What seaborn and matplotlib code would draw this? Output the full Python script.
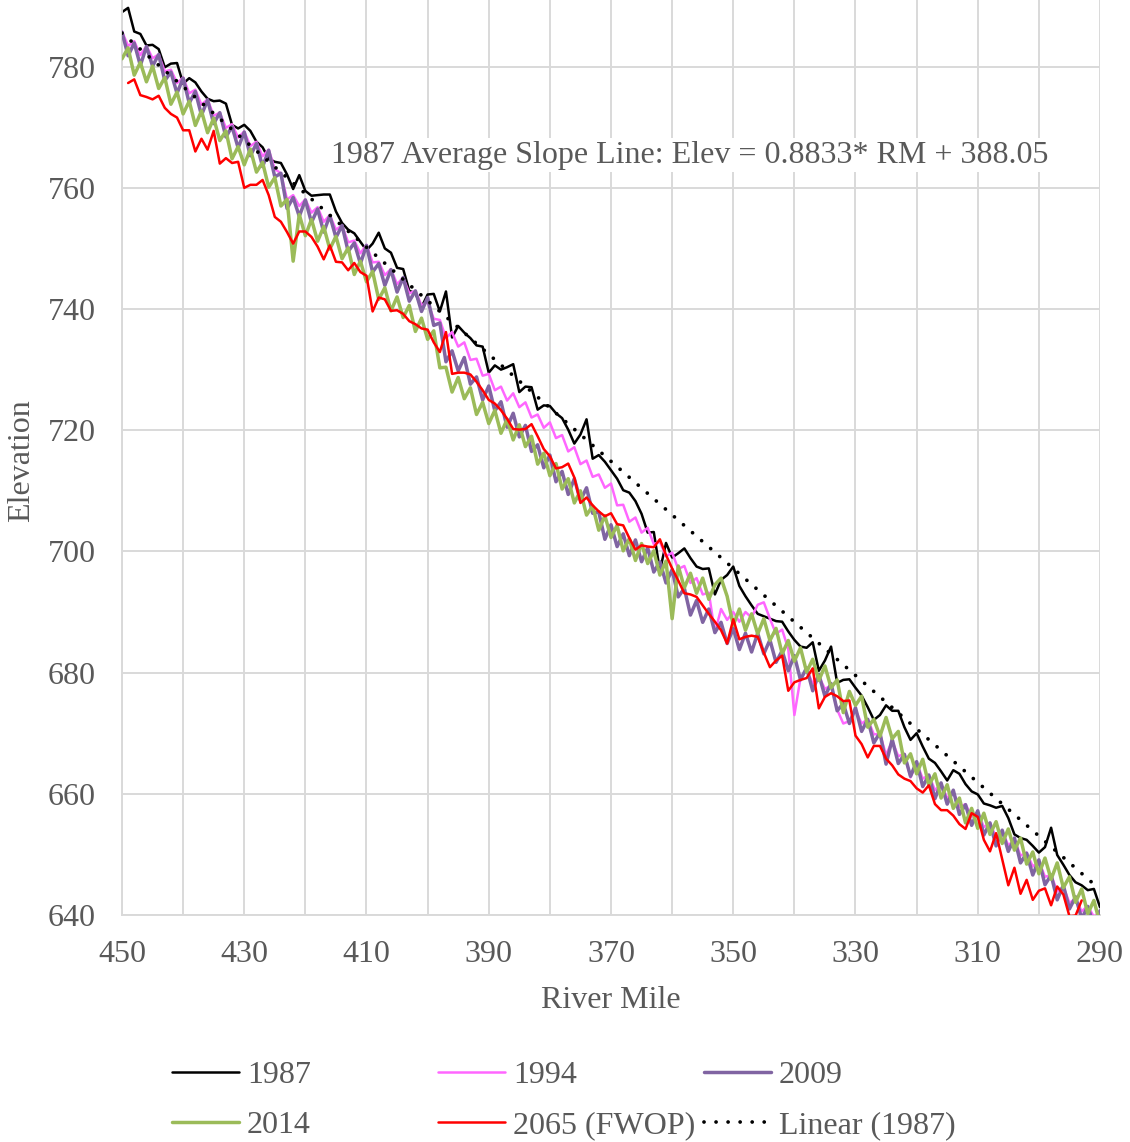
import pandas as pd
import matplotlib
matplotlib.use("Agg")
import matplotlib.pyplot as plt
import seaborn as sns

# 1. river mile stations (upstream -> downstream), one per mile
river_mile = list(range(450, 289, -1))
river_mile_2065 = list(range(449, 292, -1))

# 2. bed elevations
elev_1987 = [
    789.0, 789.7, 785.8, 785.4, 783.5, 783.6, 782.9, 779.9, 780.5, 780.6,
    777.2, 778.1, 777.4, 775.9, 774.7, 774.3, 774.4, 773.9, 770.4, 769.8,
    770.4, 769.4, 767.6, 766.7, 764.8, 764.3, 764.1, 762.2, 759.8, 762.1,
    759.5, 758.7, 758.8, 758.9, 758.9, 756.1, 754.2, 753.1, 752.5, 751.1,
    749.7, 750.8, 752.6, 750.0, 749.3, 746.8, 746.6, 743.0, 742.6, 740.3,
    742.4, 742.5, 739.6, 742.9, 735.3, 737.2, 736.1, 735.2, 734.0, 733.8,
    729.5, 730.7, 730.0, 730.4, 730.9, 726.3, 727.2, 727.1, 723.4, 724.1,
    724.0, 722.8, 722.0, 720.1, 717.8, 719.3, 721.8, 715.3, 715.9, 714.8,
    713.4, 712.0, 710.1, 709.7, 708.3, 706.2, 703.1, 703.2, 696.8, 701.4,
    699.0, 699.7, 700.5, 698.9, 697.5, 697.1, 697.2, 692.9, 695.3, 696.1,
    697.5, 694.3, 692.6, 691.1, 689.7, 689.3, 688.9, 688.5, 688.4, 686.8,
    685.4, 684.3, 684.1, 685.0, 680.3, 682.0, 684.3, 678.3, 678.8, 678.9,
    677.5, 676.2, 674.3, 672.2, 673.0, 674.6, 673.7, 673.7, 671.0, 668.9,
    670.0, 667.8, 665.8, 665.1, 663.7, 662.2, 663.9, 663.3, 661.6, 660.4,
    659.9, 658.4, 658.1, 657.7, 658.0, 656.0, 653.3, 652.7, 652.4, 651.4,
    650.3, 651.2, 654.4, 649.9, 648.3, 646.6, 645.4, 644.9, 644.1, 644.3,
    641.3,
]

elev_1994 = [
    785.8, 783.4, 784.2, 781.9, 783.4, 781.4, 782.0, 779.2, 779.5, 777.3,
    778.2, 775.6, 776.2, 773.7, 774.6, 771.9, 772.4, 769.9, 770.5, 768.3,
    769.3, 766.9, 767.6, 765.2, 766.3, 763.1, 762.4, 758.1, 758.8, 757.0,
    758.1, 755.9, 756.8, 754.4, 755.5, 753.1, 753.8, 751.0, 751.3, 749.2,
    750.6, 747.7, 747.8, 745.6, 746.6, 744.1, 745.2, 742.6, 743.0, 740.6,
    741.2, 738.4, 738.2, 735.2, 736.2, 733.8, 734.5, 731.6, 731.8, 729.0,
    729.3, 726.6, 727.2, 724.9, 726.1, 723.8, 724.6, 722.1, 722.6, 720.4,
    721.3, 718.7, 719.2, 716.5, 717.2, 714.4, 715.0, 712.3, 712.7, 710.5,
    711.2, 707.6, 707.7, 704.9, 705.6, 703.1, 703.9, 701.2, 701.6, 699.2,
    699.8, 697.1, 697.6, 694.8, 695.6, 692.9, 693.2, 686.6, 690.5, 688.7,
    690.0, 688.4, 690.0, 689.1, 691.2, 691.6, 688.9, 686.4, 687.1, 683.9,
    673.0, 679.1, 680.5, 678.2, 679.4, 677.3, 677.9, 673.9, 671.6, 672.0,
    673.8, 671.6, 672.3, 669.8, 669.9, 666.4, 668.7, 666.2, 666.6, 662.7,
    665.1, 662.5, 663.1, 660.6, 661.6, 659.3, 660.3, 657.8, 658.3, 656.2,
    657.0, 654.5, 655.2, 652.8, 653.8, 651.5, 652.4, 649.8, 650.3, 648.0,
    648.9, 646.3, 646.6, 643.9, 644.7, 642.0, 642.7, 640.6, 641.5, 639.7,
    640.5,
]

elev_2009 = [
    785.7, 781.8, 783.9, 780.2, 783.3, 780.1, 782.0, 777.7, 779.1, 775.6,
    778.1, 774.0, 775.9, 772.0, 774.5, 770.6, 772.4, 768.4, 770.1, 766.6,
    769.2, 765.3, 767.3, 763.5, 766.2, 761.8, 762.4, 756.6, 758.4, 755.3,
    758.0, 754.3, 756.5, 752.7, 755.4, 751.8, 753.8, 749.5, 750.9, 747.5,
    750.5, 746.1, 747.5, 743.9, 746.5, 742.8, 745.2, 741.3, 743.0, 739.6,
    741.9, 737.3, 737.7, 731.3, 733.1, 729.8, 732.0, 727.6, 728.8, 725.0,
    727.3, 723.2, 724.7, 720.5, 722.8, 718.9, 720.8, 716.5, 717.6, 713.8,
    715.9, 711.5, 713.2, 709.4, 712.0, 708.4, 710.5, 706.3, 706.5, 702.0,
    704.4, 700.8, 702.9, 699.3, 701.9, 698.3, 700.6, 696.6, 698.3, 694.8,
    697.0, 692.5, 693.9, 689.5, 691.9, 688.3, 690.5, 686.6, 688.3, 684.8,
    687.3, 683.8, 686.5, 683.4, 686.5, 683.1, 685.4, 681.7, 683.6, 680.3,
    682.8, 678.8, 680.8, 677.0, 679.7, 676.1, 678.2, 673.7, 674.9, 671.6,
    674.2, 670.3, 672.3, 668.4, 670.1, 664.9, 669.0, 665.0, 666.5, 662.9,
    665.3, 661.2, 663.1, 659.2, 661.8, 658.3, 660.6, 656.6, 658.2, 654.8,
    657.2, 653.2, 655.2, 651.4, 654.0, 650.5, 652.7, 648.6, 650.2, 646.6,
    649.1, 645.0, 646.6, 642.5, 644.9, 641.0, 643.0, 639.4, 641.4, 638.3,
    640.7,
]

elev_2014 = [
    781.3, 783.1, 778.6, 780.7, 777.5, 780.1, 776.4, 778.2, 773.8, 775.8,
    772.2, 774.3, 770.3, 772.7, 769.1, 771.5, 767.8, 769.4, 764.8, 766.8,
    763.8, 766.4, 762.6, 764.2, 760.1, 761.7, 757.0, 758.1, 747.9, 755.6,
    752.1, 754.8, 751.2, 753.6, 749.9, 752.0, 748.3, 750.1, 745.7, 747.9,
    744.5, 746.2, 741.6, 743.5, 739.7, 742.0, 738.6, 740.6, 736.3, 738.5,
    735.0, 736.4, 730.3, 730.4, 726.3, 728.7, 725.2, 727.0, 722.6, 724.6,
    721.1, 723.3, 719.5, 721.8, 718.4, 720.9, 717.3, 719.0, 714.4, 716.2,
    712.5, 714.5, 710.3, 712.0, 708.0, 710.0, 706.0, 707.5, 703.5, 705.9,
    702.3, 704.3, 700.1, 702.1, 698.5, 701.3, 698.0, 700.1, 696.1, 698.4,
    688.9, 697.6, 694.0, 696.4, 693.1, 695.6, 692.1, 694.5, 695.6, 692.6,
    687.8, 690.5, 687.0, 689.7, 686.4, 688.9, 685.3, 687.3, 683.1, 685.3,
    681.9, 684.1, 680.1, 682.2, 678.7, 681.1, 677.5, 678.8, 673.4, 676.9,
    674.6, 676.1, 671.0, 672.3, 669.5, 672.6, 669.1, 670.3, 665.1, 666.6,
    663.3, 665.7, 661.4, 663.3, 659.3, 661.5, 657.6, 659.3, 655.2, 657.6,
    654.3, 656.8, 653.3, 655.4, 651.8, 654.2, 650.7, 652.7, 648.4, 650.4,
    646.8, 649.4, 645.9, 648.6, 644.5, 646.3, 642.1, 644.3, 640.2, 642.4,
    638.6,
]

elev_2065 = [
    777.3, 777.9, 775.3, 775.0, 774.6, 775.2, 773.2, 772.2, 771.6,
    769.5, 769.5, 766.0, 768.1, 766.3, 769.4, 764.0, 764.9, 764.1, 764.3,
    760.0, 760.5, 760.5, 761.3, 758.8, 755.2, 754.4, 752.7, 750.8, 752.8,
    752.8, 751.9, 750.3, 748.2, 750.5, 747.8, 747.7, 746.4, 747.6, 746.1,
    745.5, 739.6, 741.9, 741.6, 739.7, 739.8, 739.2, 738.0, 737.5, 736.8,
    736.6, 734.5, 732.9, 736.2, 729.3, 729.5, 729.5, 729.2, 728.0, 726.6,
    725.0, 724.4, 723.3, 721.9, 720.2, 720.1, 720.2, 721.0, 719.0, 716.9,
    715.7, 713.7, 713.9, 714.5, 712.2, 708.0, 708.9, 707.6, 706.6, 705.8,
    706.3, 704.5, 704.3, 702.2, 700.3, 701.0, 700.8, 700.7, 702.0, 699.4,
    697.2, 695.2, 693.1, 692.9, 692.5, 691.1, 689.7, 688.4, 687.0, 684.8,
    688.8, 685.5, 685.9, 686.1, 685.9, 683.3, 680.9, 682.0, 682.8, 677.0,
    678.4, 678.8, 679.1, 680.7, 674.1, 676.0, 676.6, 676.1, 675.3, 675.4,
    669.6, 668.2, 666.0, 667.9, 667.9, 665.8, 664.7, 663.2, 662.5, 662.1,
    660.9, 660.2, 661.4, 658.3, 657.3, 657.3, 656.4, 655.0, 654.2, 656.8,
    656.2, 652.4, 650.5, 653.5, 649.2, 644.9, 647.8, 643.5, 645.8, 642.5,
    644.0, 644.4, 641.6, 644.7, 643.4, 639.8, 639.9, 642.4,
]

# 3. 1987 average slope (trend) line, as printed on the chart
trend_slope = 0.8833
trend_intercept = 388.05
trend_rm = [450, 290]

x_ticks = list(range(450, 289, -20))
y_ticks = list(range(640, 781, 20))

TXT = "#595959"
GRID = "#D9D9D9"
FS = 23

sns.set_theme(style="white")
plt.rcParams["font.family"] = ["Liberation Serif", "DejaVu Serif"]

fig = plt.figure(figsize=(11.3, 11.42), dpi=100)
ax = fig.add_axes([122 / 1130, 1 - 915 / 1142, 978 / 1130, 915 / 1142])

series = [
    ("1987", river_mile, elev_1987, "#000000", 1.8, 2),
    ("1994", river_mile, elev_1994, "#FF66FF", 1.8, 3),
    ("2009", river_mile, elev_2009, "#8064A2", 2.5, 4),
    ("2014", river_mile, elev_2014, "#9BBB59", 2.5, 5),
    ("2065 (FWOP)", river_mile_2065, elev_2065, "#FF0000", 1.8, 6),
]
for label, xs, ys, col, lw, z in series:
    df = pd.DataFrame({"rm": xs, "elev": ys})
    sns.lineplot(data=df, x="rm", y="elev", ax=ax, color=col, lw=lw,
                 label=label, zorder=z, sort=False, estimator=None)

trend = pd.DataFrame({"rm": trend_rm,
                      "elev": [trend_slope * r + trend_intercept for r in trend_rm]})
sns.lineplot(data=trend, x="rm", y="elev", ax=ax, color="black", lw=2.7,
             linestyle=(0, (0.01, 3.2)), dash_capstyle="round",
             label="Linear (1987)", zorder=7, sort=False, estimator=None)

ax.set_xlim(450, 290)
ax.set_ylim(640, 791)
ax.set_xticks(x_ticks)
ax.set_xticks(list(range(440, 290, -20)), minor=True)
ax.set_yticks(y_ticks)
ax.grid(axis="x", which="both", color=GRID, lw=1.4)
ax.grid(axis="y", which="major", color=GRID, lw=1.4)
ax.set_axisbelow(True)
for s in ["top", "right"]:
    ax.spines[s].set_visible(False)
for s in ["left", "bottom"]:
    ax.spines[s].set_color(GRID)
    ax.spines[s].set_linewidth(1.4)
ax.tick_params(axis="both", which="both", length=0, labelsize=FS, labelcolor=TXT)
ax.tick_params(axis="x", pad=18)
ax.tick_params(axis="y", pad=19)
ax.set_xlabel("")
ax.set_ylabel("")

fig.text(22 / 1130, 1 - 461 / 1142, "Elevation", rotation=90, ha="center",
         va="center", fontsize=FS, color=TXT)
fig.text(611 / 1130, 1 - 1000 / 1142, "River Mile", ha="center", va="center",
         fontsize=FS, color=TXT)

ax.text(0.5808, 0.8306, "1987 Average Slope Line: Elev = 0.8833* RM + 388.05",
        transform=ax.transAxes, ha="center", va="center", fontsize=FS, color=TXT,
        zorder=20, bbox=dict(facecolor="white", edgecolor="none", pad=2))

# legend: Excel style grid of 3 columns x 2 rows
handles, labels = ax.get_legend_handles_labels()
ax.legend_.remove()
hmap = dict(zip(labels, handles))
columns = [["1987", "2014"], ["1994", "2065 (FWOP)"], ["2009", "Linear (1987)"]]
col_x = [172, 438, 704]
for cx, names in zip(col_x, columns):
    leg = fig.legend([hmap[n] for n in names], names, loc="center left",
                     bbox_to_anchor=(cx / 1130, 1 - 1100.5 / 1142),
                     frameon=False, fontsize=FS, handlelength=2.1,
                     handletextpad=0.25, labelspacing=0.64, borderpad=0,
                     borderaxespad=0)
    for t in leg.get_texts():
        t.set_color(TXT)

fig.savefig("out.png", dpi=100)
